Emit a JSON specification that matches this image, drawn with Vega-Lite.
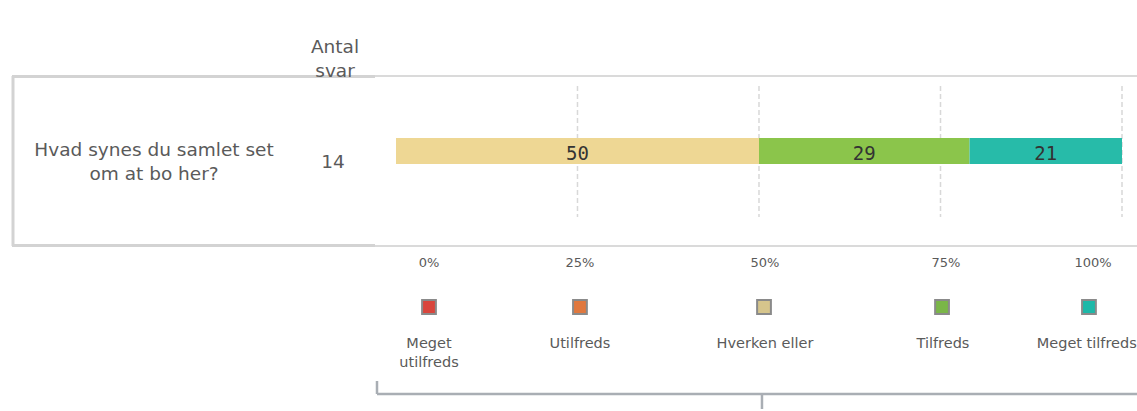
{
  "$schema": "https://vega.github.io/schema/vega-lite/v6.json",
  "width": 1137,
  "height": 411,
  "padding": 0,
  "autosize": {"type": "none"},
  "background": "white",
  "config": {"view": {"stroke": null}, "text": {"font": "DejaVu Sans"}},
  "datasets": {
    "answers": [
      {"question": "Hvad synes du samlet set om at bo her?", "answer": "Hverken eller", "pct": 50, "start": 0, "end": 50},
      {"question": "Hvad synes du samlet set om at bo her?", "answer": "Tilfreds", "pct": 29, "start": 50, "end": 79},
      {"question": "Hvad synes du samlet set om at bo her?", "answer": "Meget tilfreds", "pct": 21, "start": 79, "end": 100}
    ],
    "grid": [{"v": 25}, {"v": 50}, {"v": 75}, {"v": 100}],
    "ticks": [
      {"label": "0%", "x": 4.545},
      {"label": "25%", "x": 25.34},
      {"label": "50%", "x": 50.83},
      {"label": "75%", "x": 75.76},
      {"label": "100%", "x": 96.01}
    ],
    "legend": [
      {"answer": "Meget utilfreds", "l1": "Meget", "l2": "utilfreds", "x": 4.545, "lx": 4.545},
      {"answer": "Utilfreds", "l1": "Utilfreds", "l2": "", "x": 25.34, "lx": 25.34},
      {"answer": "Hverken eller", "l1": "Hverken eller", "l2": "", "x": 50.69, "lx": 50.83},
      {"answer": "Tilfreds", "l1": "Tilfreds", "l2": "", "x": 75.21, "lx": 75.34},
      {"answer": "Meget tilfreds", "l1": "Meget tilfreds", "l2": "", "x": 95.45, "lx": 95.15}
    ],
    "thickLines": [
      {"x": -52.755, "x2": -52.755, "y": 76, "y2": 246},
      {"x": -52.893, "x2": -2.893, "y": 76.5, "y2": 76.5},
      {"x": -52.893, "x2": -2.893, "y": 245.5, "y2": 245.5}
    ],
    "thinLines": [
      {"x": -2.893, "x2": 102.066, "y": 76, "y2": 76},
      {"x": -2.893, "x2": 102.066, "y": 246, "y2": 246}
    ],
    "bracket": [
      {"x": -2.617, "x2": 102.066, "y": 394, "y2": 394},
      {"x": -2.617, "x2": -2.617, "y": 381, "y2": 394},
      {"x": 50.41, "x2": 50.41, "y": 394, "y2": 409}
    ],
    "labels": [
      {"text": "Antal", "x": -8.4, "y": 47},
      {"text": "svar", "x": -8.4, "y": 71},
      {"text": "Hvad synes du samlet set", "x": -33.33, "y": 150},
      {"text": "om at bo her?", "x": -33.33, "y": 174},
      {"text": "14", "x": -8.68, "y": 162}
    ]
  },
  "layer": [
    {
      "data": {"name": "thickLines"},
      "mark": {"type": "rule", "color": "#d3d3d3", "strokeWidth": 3},
      "encoding": {
        "x": {"field": "x", "type": "quantitative", "scale": {"domain": [-54.545, 102.066], "nice": false, "zero": false}, "axis": null},
        "x2": {"field": "x2"},
        "y": {"field": "y", "type": "quantitative", "scale": {"domain": [0, 411], "reverse": true, "nice": false, "zero": false}, "axis": null},
        "y2": {"field": "y2"}
      }
    },
    {
      "data": {"name": "thinLines"},
      "mark": {"type": "rule", "color": "#dadada", "strokeWidth": 2},
      "encoding": {
        "x": {"field": "x", "type": "quantitative"},
        "x2": {"field": "x2"},
        "y": {"field": "y", "type": "quantitative"},
        "y2": {"field": "y2"}
      }
    },
    {
      "data": {"name": "grid"},
      "mark": {"type": "rule", "color": "#d8d8d8", "strokeWidth": 1.5, "strokeDash": [5, 3]},
      "encoding": {
        "x": {"field": "v", "type": "quantitative"},
        "y": {"datum": 86, "type": "quantitative"},
        "y2": {"datum": 217}
      }
    },
    {
      "data": {"name": "answers"},
      "mark": {"type": "rect"},
      "encoding": {
        "x": {"field": "start", "type": "quantitative"},
        "x2": {"field": "end"},
        "y": {"datum": 138, "type": "quantitative"},
        "y2": {"datum": 164},
        "color": {
          "field": "answer", "type": "nominal", "legend": null,
          "scale": {"domain": ["Hverken eller", "Tilfreds", "Meget tilfreds"], "range": ["#eed794", "#8bc54b", "#27bba9"]}
        }
      }
    },
    {
      "data": {"name": "answers"},
      "transform": [{"calculate": "(datum.start + datum.end) / 2", "as": "mid"}],
      "mark": {"type": "text", "font": "DejaVu Sans Mono", "fontSize": 19, "color": "#333333", "baseline": "middle", "align": "center"},
      "encoding": {
        "x": {"field": "mid", "type": "quantitative"},
        "y": {"datum": 154, "type": "quantitative"},
        "text": {"field": "pct", "type": "quantitative"}
      }
    },
    {
      "data": {"name": "labels"},
      "mark": {"type": "text", "fontSize": 18.5, "color": "#5a5a5a", "baseline": "middle", "align": "center"},
      "encoding": {
        "x": {"field": "x", "type": "quantitative"},
        "y": {"field": "y", "type": "quantitative"},
        "text": {"field": "text"}
      }
    },
    {
      "data": {"name": "ticks"},
      "mark": {"type": "text", "fontSize": 13, "color": "#5a5a5a", "baseline": "middle", "align": "center"},
      "encoding": {
        "x": {"field": "x", "type": "quantitative"},
        "y": {"datum": 263, "type": "quantitative"},
        "text": {"field": "label"}
      }
    },
    {
      "data": {"name": "legend"},
      "mark": {"type": "point", "shape": "square", "filled": true, "size": 190, "stroke": "#8a8a8a", "strokeWidth": 2, "opacity": 1},
      "encoding": {
        "x": {"field": "x", "type": "quantitative"},
        "y": {"datum": 307, "type": "quantitative"},
        "fill": {
          "field": "answer", "type": "nominal", "legend": null,
          "scale": {"domain": ["Meget utilfreds", "Utilfreds", "Hverken eller", "Tilfreds", "Meget tilfreds"], "range": ["#d9453c", "#e0783e", "#d6c58c", "#7ab648", "#1db8a8"]}
        }
      }
    },
    {
      "data": {"name": "legend"},
      "mark": {"type": "text", "fontSize": 14.5, "color": "#5a5a5a", "baseline": "middle", "align": "center"},
      "encoding": {
        "x": {"field": "lx", "type": "quantitative"},
        "y": {"datum": 344, "type": "quantitative"},
        "text": {"field": "l1"}
      }
    },
    {
      "data": {"name": "legend"},
      "mark": {"type": "text", "fontSize": 14.5, "color": "#5a5a5a", "baseline": "middle", "align": "center"},
      "encoding": {
        "x": {"field": "lx", "type": "quantitative"},
        "y": {"datum": 363, "type": "quantitative"},
        "text": {"field": "l2"}
      }
    },
    {
      "data": {"name": "bracket"},
      "mark": {"type": "rule", "color": "#a9aeb4", "strokeWidth": 2.5},
      "encoding": {
        "x": {"field": "x", "type": "quantitative"},
        "x2": {"field": "x2"},
        "y": {"field": "y", "type": "quantitative"},
        "y2": {"field": "y2"}
      }
    }
  ],
  "resolve": {"scale": {"color": "independent", "fill": "independent"}}
}
